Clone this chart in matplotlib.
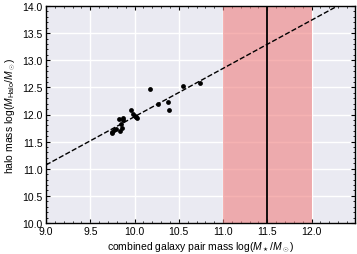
import matplotlib
matplotlib.use("Agg")
import matplotlib.pyplot as plt
import numpy as np
from matplotlib.ticker import MultipleLocator

plt.rcParams['font.family'] = ['Liberation Sans', 'DejaVu Sans']
plt.rcParams['mathtext.fontset'] = 'custom'
plt.rcParams['mathtext.rm'] = 'Liberation Sans'
plt.rcParams['mathtext.it'] = 'Liberation Sans:italic'

stellar_mass = [9.74, 9.75, 9.77, 9.79, 9.84, 9.86, 9.85, 9.82, 9.87, 9.875,
                9.96, 9.98, 10.0, 10.02, 10.03, 10.18, 10.27, 10.38, 10.39,
                10.55, 10.74]
halo_mass = [11.65, 11.68, 11.71, 11.73, 11.70, 11.76, 11.82, 11.91, 11.93, 11.89,
             12.08, 12.01, 11.97, 11.95, 11.94, 12.47, 12.20, 12.23, 12.08,
             12.53, 12.58]
fit_intercept_at_9 = 11.07
fit_slope = 0.89
band_range = [11.0, 12.0]
band_center = 11.5

fig = plt.figure(figsize=(3.57, 2.55), dpi=100)
ax = fig.add_axes([46/357, 1 - 224/255, (355-46)/357, (224-7)/255])
ax.set_facecolor('#EAEAF2')
ax.grid(True, color='white', linewidth=1.0, zorder=0)
ax.set_axisbelow(True)

ax.axvspan(band_range[0], band_range[1], color='#F08080', alpha=0.6, zorder=1, lw=0)
ax.axvline(band_center, color='black', lw=1.3, zorder=3)

xs = np.array([9.0, 12.5])
ax.plot(xs, fit_intercept_at_9 + fit_slope * (xs - 9.0), 'k--', lw=1.0, zorder=3)
ax.scatter(stellar_mass, halo_mass, s=12, color='black', zorder=4, lw=0)

ax.set_xlim(9.0, 12.49)
ax.set_ylim(10.0, 14.0)
ax.xaxis.set_major_locator(MultipleLocator(0.5))
ax.xaxis.set_minor_locator(MultipleLocator(0.1))
ax.yaxis.set_major_locator(MultipleLocator(0.5))
ax.yaxis.set_minor_locator(MultipleLocator(0.1))
ax.tick_params(which='both', direction='in', top=True, right=True, labelsize=7.5)
ax.tick_params(which='major', length=3, width=0.8, pad=2.5)
ax.tick_params(which='minor', length=1.5, width=0.6)
for s in ax.spines.values():
    s.set_color('black')
    s.set_linewidth(1.0)

ax.set_xlabel(r'combined galaxy pair mass log($M_\star/M_\odot$)', fontsize=7.5, labelpad=2)
ax.set_ylabel(r'halo mass log($M_{\rm Halo}/M_\odot$)', fontsize=7.5, labelpad=3)

fig.savefig('out.png', dpi=100)
